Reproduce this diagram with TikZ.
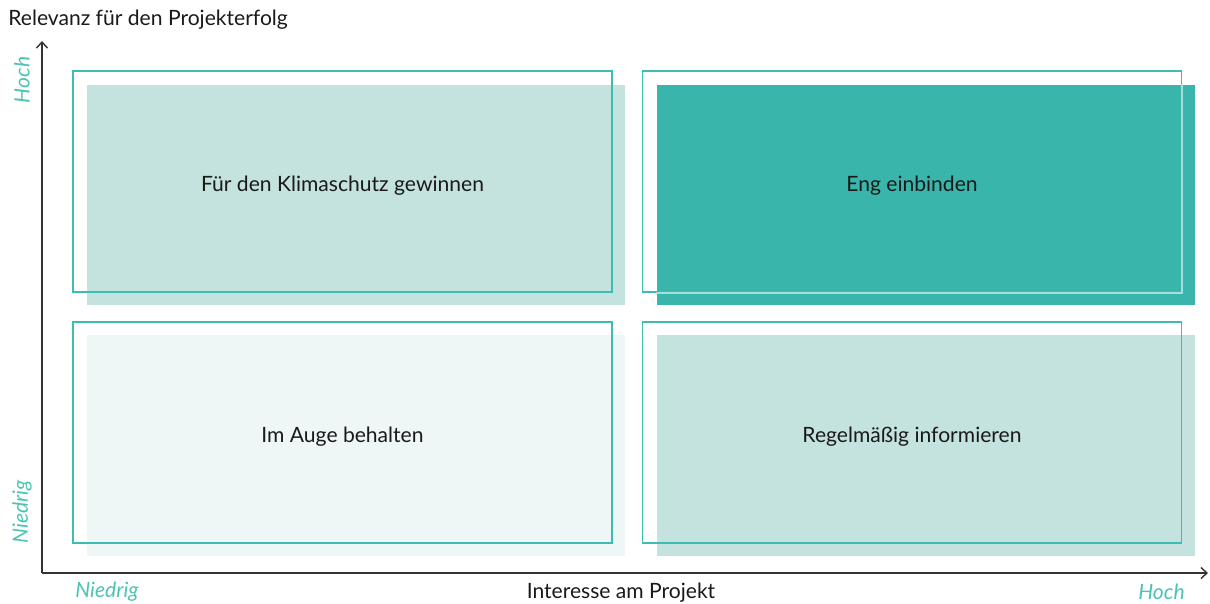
\documentclass[tikz,border=0pt]{standalone}
\usepackage{fontspec}
\setmainfont{Lato}
\usepackage{tikz}
\usetikzlibrary{arrows.meta,positioning,calc}
\definecolor{tealline}{HTML}{3DBDB1}
\definecolor{tealdark}{HTML}{3AB5AB}
\definecolor{teallight}{HTML}{C5E3DE}
\definecolor{tealpale}{HTML}{EEF7F6}
\definecolor{tealtext}{HTML}{4DC3B5}
\definecolor{axisgray}{HTML}{333333}
\definecolor{textdark}{HTML}{1A1A1A}

\begin{document}
\begin{tikzpicture}[x=0.02cm,y=-0.02cm,
  quadbox/.style={draw=tealline,line width=0.9pt,minimum width=10.78cm,minimum height=4.42cm,inner sep=0pt},
  quadfill/.style={minimum width=10.78cm,minimum height=4.42cm,inner sep=0pt},
  axislabel/.style={font=\fontsize{12}{14}\selectfont,text=textdark,inner sep=0pt},
  levellabel/.style={font=\fontsize{12}{14}\selectfont\itshape,text=tealtext,inner sep=0pt}]
\useasboundingbox (0,0) rectangle (1210,603);
% fills behind the boxes
\node[quadfill,fill=teallight] (fillTL) at (356,195) {};
\node[quadfill,fill=tealdark] (fillTR) at (926,195) {};
\node[quadfill,fill=tealpale] (fillBL) at (356,445.5) {};
\node[quadfill,fill=teallight] (fillBR) at (926,445.5) {};
% quadrants
\node[quadbox] (gewinnen) at (342.5,181.5) {};
\node[quadbox] (einbinden) at (912,181.5) {};
\node[quadbox] (behalten) at (342.5,432.5) {};
\node[quadbox] (informieren) at (912,432.5) {};
\begin{scope}
\clip (fillTR.south west) rectangle (fillTR.north east);
\draw[white!55!tealdark,line width=0.9pt] (einbinden.south west) rectangle (einbinden.north east);
\end{scope}
\node[axislabel] (gewinnentext) at ([yshift=-0.08cm]gewinnen.center) {Für den Klimaschutz gewinnen};
\node[axislabel] (einbindentext) at ([yshift=-0.08cm]einbinden.center) {Eng einbinden};
\node[axislabel] (behaltentext) at ([yshift=-0.08cm]behalten.center) {Im Auge behalten};
\node[axislabel] (informierentext) at ([yshift=-0.08cm]informieren.center) {Regelmäßig informieren};
% axes
\coordinate (origin) at (42,573);
\coordinate (yend) at (42,41);
\coordinate (xend) at (1208,573);
\draw[axisgray,line width=0.8pt,-{Straight Barb[length=1.2mm,width=2.2mm]}] (origin) -- (yend);
\draw[axisgray,line width=0.8pt,-{Straight Barb[length=1.2mm,width=2.2mm]}] (origin) -- (xend);
\node[axislabel,anchor=west] (relevanz) at (8,20) {Relevanz für den Projekterfolg};
\node[axislabel] (interesse) at (621,593) {Interesse am Projekt};
\node[levellabel,rotate=90] (yhoch) at (22,80) {Hoch};
\node[levellabel,rotate=90] (yniedrig) at (22,512) {Niedrig};
\node[levellabel,anchor=west] (xniedrig) at (75,592) {Niedrig};
\node[levellabel,anchor=east] (xhoch) at (1185,592) {Hoch};
\end{tikzpicture}
\end{document}
